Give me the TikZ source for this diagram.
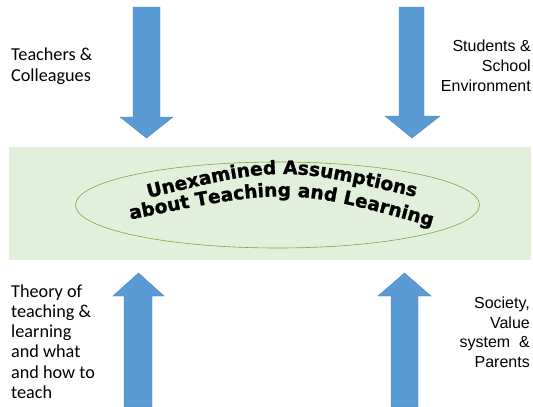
\documentclass[tikz,border=0pt]{standalone}
\usepackage{fontspec}
\setmainfont{Carlito}
\newfontfamily\arialfont{Liberation Sans}
\newfontfamily\heavyfont{DejaVu Sans}[BoldFeatures={FakeBold=1.3}]
\usetikzlibrary{decorations.text,shapes.geometric}
\definecolor{arrowblue}{HTML}{5B9BD5}
\definecolor{arrowedge}{HTML}{4A84B8}
\definecolor{bandgreen}{HTML}{E2EFDA}
\definecolor{ringgreen}{HTML}{70AD47}
\tikzset{
  blockarrow/.style={fill=arrowblue, draw=arrowedge, line width=0.4pt, line join=miter},
  leftlabel/.style={inner sep=0pt, align=left, anchor=north west, font=\fontsize{18.2}{20.2}\selectfont},
  rightlabel/.style={inner sep=0pt, align=right, anchor=north east, font=\arialfont\fontsize{16}{19.8}\selectfont},
  arctext/.style={decoration={text along path, text align=center, text={#1}}, decorate}
}
\begin{document}
\begin{tikzpicture}[x=1pt, y=-1pt]
\useasboundingbox (0,0) rectangle (533,407);
% central band and ellipse
\fill[bandgreen] (9,147) rectangle (531,260);
\node[draw=ringgreen, fill=bandgreen, ellipse, minimum width=404pt, minimum height=86pt, inner sep=0pt, line width=0.6pt] (core) at (277.5,205) {};
% warped title along two arcs
\path[arctext={|\heavyfont\bfseries\fontsize{18.6}{18.6}\selectfont|Unexamined Assumptions}]
  (134,201.5) .. controls (282,165) .. (430,200.5);
\path[arctext={|\heavyfont\bfseries\fontsize{18.6}{18.6}\selectfont|about Teaching and Learning}]
  (116,222.5) .. controls (290,186.5) .. (446,230.5);
% incoming arrows from above
\draw[blockarrow] (133,7) -- (160,7) -- (160,117) -- (173,117) -- (146.5,138) -- (120,117) -- (133,117) -- cycle;
\draw[blockarrow] (399,7) -- (424,7) -- (424,116) -- (440,116) -- (412,138) -- (385,116) -- (399,116) -- cycle;
% incoming arrows from below
\draw[blockarrow] (124,407) -- (152,407) -- (152,296) -- (164,296) -- (138.5,273) -- (113,296) -- (124,296) -- cycle;
\draw[blockarrow] (391,407) -- (418,407) -- (418,296) -- (431,296) -- (404.5,273) -- (378,296) -- (391,296) -- cycle;
% labels
\node[leftlabel] (teachers) at (11,48) {Teachers \&\\Colleagues};
\node[leftlabel] (theory) at (11,284.5) {Theory of\\teaching \&\\learning\\and what\\and how to\\teach};
\node[rightlabel] (students) at (531,40) {Students \&\\School\\Environment};
\node[rightlabel] (society) at (530,296.5) {Society,\\Value\\system~~\&\\Parents};
\end{tikzpicture}
\end{document}
